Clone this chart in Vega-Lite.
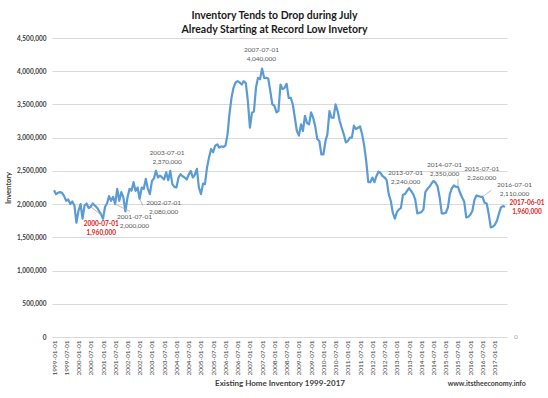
{
"$schema":"https://vega.github.io/schema/vega-lite/v6.json",
"width":455,"height":299,"autosize":"none",
"padding":{"left":52,"top":38,"right":41,"bottom":61},
"background":"#ffffff",
"title":{"text":["Inventory Tends to Drop during July","Already Starting at Record Low Invetory"],"font":"Lato","fontSize":10.5,"fontWeight":"bold","color":"#1a1a1a","lineHeight":14,"offset":0,"anchor":"middle","dx":-5},
"datasets":{
"inv":[
{"date":"1999-01-01","value":2210000},{"date":"1999-02-01","value":2150000},{"date":"1999-03-01","value":2170000},{"date":"1999-04-01","value":2180000},{"date":"1999-05-01","value":2170000},{"date":"1999-06-01","value":2120000},{"date":"1999-07-01","value":2050000},{"date":"1999-08-01","value":2070000},{"date":"1999-09-01","value":2000000},{"date":"1999-10-01","value":2040000},{"date":"1999-11-01","value":1980000},{"date":"1999-12-01","value":1720000},
{"date":"2000-01-01","value":1900000},{"date":"2000-02-01","value":2000000},{"date":"2000-03-01","value":1780000},{"date":"2000-04-01","value":1980000},{"date":"2000-05-01","value":2010000},{"date":"2000-06-01","value":1940000},{"date":"2000-07-01","value":1960000},{"date":"2000-08-01","value":2010000},{"date":"2000-09-01","value":1980000},{"date":"2000-10-01","value":1950000},{"date":"2000-11-01","value":1900000},{"date":"2000-12-01","value":1850000},
{"date":"2001-01-01","value":1780000},{"date":"2001-02-01","value":1960000},{"date":"2001-03-01","value":2010000},{"date":"2001-04-01","value":2120000},{"date":"2001-05-01","value":2050000},{"date":"2001-06-01","value":2110000},{"date":"2001-07-01","value":2000000},{"date":"2001-08-01","value":2230000},{"date":"2001-09-01","value":2050000},{"date":"2001-10-01","value":2180000},{"date":"2001-11-01","value":2100000},{"date":"2001-12-01","value":1890000},
{"date":"2002-01-01","value":2100000},{"date":"2002-02-01","value":2230000},{"date":"2002-03-01","value":2200000},{"date":"2002-04-01","value":2330000},{"date":"2002-05-01","value":2200000},{"date":"2002-06-01","value":2250000},{"date":"2002-07-01","value":2080000},{"date":"2002-08-01","value":2250000},{"date":"2002-09-01","value":2230000},{"date":"2002-10-01","value":2380000},{"date":"2002-11-01","value":2230000},{"date":"2002-12-01","value":2150000},
{"date":"2003-01-01","value":2350000},{"date":"2003-02-01","value":2390000},{"date":"2003-03-01","value":2500000},{"date":"2003-04-01","value":2400000},{"date":"2003-05-01","value":2430000},{"date":"2003-06-01","value":2400000},{"date":"2003-07-01","value":2370000},{"date":"2003-08-01","value":2480000},{"date":"2003-09-01","value":2360000},{"date":"2003-10-01","value":2500000},{"date":"2003-11-01","value":2300000},{"date":"2003-12-01","value":2260000},
{"date":"2004-01-01","value":2250000},{"date":"2004-02-01","value":2400000},{"date":"2004-03-01","value":2450000},{"date":"2004-04-01","value":2420000},{"date":"2004-05-01","value":2400000},{"date":"2004-06-01","value":2370000},{"date":"2004-07-01","value":2440000},{"date":"2004-08-01","value":2500000},{"date":"2004-09-01","value":2400000},{"date":"2004-10-01","value":2440000},{"date":"2004-11-01","value":2530000},{"date":"2004-12-01","value":2250000},
{"date":"2005-01-01","value":2150000},{"date":"2005-02-01","value":2310000},{"date":"2005-03-01","value":2300000},{"date":"2005-04-01","value":2550000},{"date":"2005-05-01","value":2700000},{"date":"2005-06-01","value":2830000},{"date":"2005-07-01","value":2780000},{"date":"2005-08-01","value":2880000},{"date":"2005-09-01","value":2900000},{"date":"2005-10-01","value":2850000},{"date":"2005-11-01","value":2870000},{"date":"2005-12-01","value":2860000},
{"date":"2006-01-01","value":2880000},{"date":"2006-02-01","value":3050000},{"date":"2006-03-01","value":3350000},{"date":"2006-04-01","value":3600000},{"date":"2006-05-01","value":3750000},{"date":"2006-06-01","value":3830000},{"date":"2006-07-01","value":3850000},{"date":"2006-08-01","value":3830000},{"date":"2006-09-01","value":3800000},{"date":"2006-10-01","value":3850000},{"date":"2006-11-01","value":3820000},{"date":"2006-12-01","value":3550000},
{"date":"2007-01-01","value":3150000},{"date":"2007-02-01","value":3380000},{"date":"2007-03-01","value":3390000},{"date":"2007-04-01","value":3750000},{"date":"2007-05-01","value":3900000},{"date":"2007-06-01","value":3880000},{"date":"2007-07-01","value":4040000},{"date":"2007-08-01","value":3900000},{"date":"2007-09-01","value":3900000},{"date":"2007-10-01","value":3890000},{"date":"2007-11-01","value":3700000},{"date":"2007-12-01","value":3500000},
{"date":"2008-01-01","value":3480000},{"date":"2008-02-01","value":3380000},{"date":"2008-03-01","value":3400000},{"date":"2008-04-01","value":3800000},{"date":"2008-05-01","value":3730000},{"date":"2008-06-01","value":3750000},{"date":"2008-07-01","value":3810000},{"date":"2008-08-01","value":3600000},{"date":"2008-09-01","value":3600000},{"date":"2008-10-01","value":3500000},{"date":"2008-11-01","value":3300000},{"date":"2008-12-01","value":3100000},
{"date":"2009-01-01","value":3030000},{"date":"2009-02-01","value":3200000},{"date":"2009-03-01","value":3100000},{"date":"2009-04-01","value":3330000},{"date":"2009-05-01","value":3220000},{"date":"2009-06-01","value":3200000},{"date":"2009-07-01","value":3380000},{"date":"2009-08-01","value":3300000},{"date":"2009-09-01","value":3170000},{"date":"2009-10-01","value":2980000},{"date":"2009-11-01","value":2950000},{"date":"2009-12-01","value":2750000},
{"date":"2010-01-01","value":2750000},{"date":"2010-02-01","value":2950000},{"date":"2010-03-01","value":3050000},{"date":"2010-04-01","value":3400000},{"date":"2010-05-01","value":3300000},{"date":"2010-06-01","value":3300000},{"date":"2010-07-01","value":3500000},{"date":"2010-08-01","value":3400000},{"date":"2010-09-01","value":3250000},{"date":"2010-10-01","value":3150000},{"date":"2010-11-01","value":3050000},{"date":"2010-12-01","value":2930000},
{"date":"2011-01-01","value":2950000},{"date":"2011-02-01","value":3000000},{"date":"2011-03-01","value":3000000},{"date":"2011-04-01","value":3180000},{"date":"2011-05-01","value":3130000},{"date":"2011-06-01","value":3150000},{"date":"2011-07-01","value":3170000},{"date":"2011-08-01","value":3050000},{"date":"2011-09-01","value":2880000},{"date":"2011-10-01","value":2650000},{"date":"2011-11-01","value":2330000},{"date":"2011-12-01","value":2330000},
{"date":"2012-01-01","value":2400000},{"date":"2012-02-01","value":2330000},{"date":"2012-03-01","value":2420000},{"date":"2012-04-01","value":2490000},{"date":"2012-05-01","value":2470000},{"date":"2012-06-01","value":2420000},{"date":"2012-07-01","value":2400000},{"date":"2012-08-01","value":2360000},{"date":"2012-09-01","value":2150000},{"date":"2012-10-01","value":2050000},{"date":"2012-11-01","value":1870000},{"date":"2012-12-01","value":1780000},
{"date":"2013-01-01","value":1880000},{"date":"2013-02-01","value":1920000},{"date":"2013-03-01","value":1940000},{"date":"2013-04-01","value":2140000},{"date":"2013-05-01","value":2150000},{"date":"2013-06-01","value":2200000},{"date":"2013-07-01","value":2240000},{"date":"2013-08-01","value":2200000},{"date":"2013-09-01","value":2150000},{"date":"2013-10-01","value":2070000},{"date":"2013-11-01","value":1860000},{"date":"2013-12-01","value":1870000},
{"date":"2014-01-01","value":1880000},{"date":"2014-02-01","value":1920000},{"date":"2014-03-01","value":2180000},{"date":"2014-04-01","value":2230000},{"date":"2014-05-01","value":2260000},{"date":"2014-06-01","value":2310000},{"date":"2014-07-01","value":2350000},{"date":"2014-08-01","value":2320000},{"date":"2014-09-01","value":2260000},{"date":"2014-10-01","value":2100000},{"date":"2014-11-01","value":1860000},{"date":"2014-12-01","value":1860000},
{"date":"2015-01-01","value":1870000},{"date":"2015-02-01","value":1950000},{"date":"2015-03-01","value":2150000},{"date":"2015-04-01","value":2240000},{"date":"2015-05-01","value":2280000},{"date":"2015-06-01","value":2260000},{"date":"2015-07-01","value":2260000},{"date":"2015-08-01","value":2170000},{"date":"2015-09-01","value":2100000},{"date":"2015-10-01","value":2040000},{"date":"2015-11-01","value":1800000},{"date":"2015-12-01","value":1810000},
{"date":"2016-01-01","value":1840000},{"date":"2016-02-01","value":1900000},{"date":"2016-03-01","value":2060000},{"date":"2016-04-01","value":2130000},{"date":"2016-05-01","value":2120000},{"date":"2016-06-01","value":2110000},{"date":"2016-07-01","value":2110000},{"date":"2016-08-01","value":2020000},{"date":"2016-09-01","value":2010000},{"date":"2016-10-01","value":1850000},{"date":"2016-11-01","value":1650000},{"date":"2016-12-01","value":1660000},
{"date":"2017-01-01","value":1690000},{"date":"2017-02-01","value":1750000},{"date":"2017-03-01","value":1850000},{"date":"2017-04-01","value":1950000},{"date":"2017-05-01","value":1970000},{"date":"2017-06-01","value":1960000}
],
"ann":[
{"date":"2000-07-01","value":1960000,"label":"2000-07-01\n1,960,000"},
{"date":"2001-07-01","value":2000000,"label":"2001-07-01\n2,000,000"},
{"date":"2002-07-01","value":2080000,"label":"2002-07-01\n2,080,000"},
{"date":"2003-07-01","value":2370000,"label":"2003-07-01\n2,370,000"},
{"date":"2007-07-01","value":4040000,"label":"2007-07-01\n4,040,000"},
{"date":"2013-07-01","value":2240000,"label":"2013-07-01\n2,240,000"},
{"date":"2014-07-01","value":2350000,"label":"2014-07-01\n2,350,000"},
{"date":"2015-07-01","value":2260000,"label":"2015-07-01\n2,260,000"},
{"date":"2016-07-01","value":2110000,"label":"2016-07-01\n2,110,000"},
{"date":"2017-06-01","value":1960000,"label":"2017-06-01\n1,960,000"}
],
"notes":[{"label":"www.itstheeconomy.info"}],
"zero":[{"label":"0"}]
},
"layer":[
{"layer":[
{"data":{"name":"inv"},"mark":{"type":"line","color":"#5b9bd5","strokeWidth":2.2,"strokeJoin":"round"}},
{"data":{"name":"ann"},"transform":[{"filter":"utcyear(datum.date) == 2000"}],"mark":{"type":"rule","color":"#a6a6a6","strokeWidth":0.75},"encoding":{"x2":{"datum":{"year":2000,"month":12,"date":1,"utc":true}},"y2":{"datum":1840000}}},
{"data":{"name":"ann"},"transform":[{"filter":"utcyear(datum.date) == 2001"}],"mark":{"type":"rule","color":"#a6a6a6","strokeWidth":0.75},"encoding":{"x2":{"datum":{"year":2002,"month":2,"date":5,"utc":true}},"y2":{"datum":1890000}}},
{"data":{"name":"ann"},"transform":[{"filter":"utcyear(datum.date) == 2002"}],"mark":{"type":"rule","color":"#a6a6a6","strokeWidth":0.75},"encoding":{"x2":{"datum":{"year":2002,"month":8,"date":20,"utc":true}},"y2":{"datum":1975000}}},
{"data":{"name":"ann"},"transform":[{"filter":"utcyear(datum.date) == 2015"}],"mark":{"type":"rule","color":"#a6a6a6","strokeWidth":0.75},"encoding":{"x2":{"datum":{"year":2015,"month":7,"date":1,"utc":true}},"y2":{"datum":2375000}}},
{"data":{"name":"ann"},"transform":[{"filter":"utcyear(datum.date) == 2016"}],"mark":{"type":"rule","color":"#a6a6a6","strokeWidth":0.75},"encoding":{"x2":{"datum":{"year":2016,"month":11,"date":10,"utc":true}},"y2":{"datum":2210000}}},
{"data":{"name":"ann"},"transform":[{"filter":"utcyear(datum.date) == 2000"}],"mark":{"type":"text","font":"Lato","fontSize":6.5,"fontWeight":"bold","color":"#e0201b","lineBreak":"\n","lineHeight":9,"baseline":"middle","dx":10.6,"dy":17.3},"encoding":{"text":{"field":"label"}}},
{"data":{"name":"ann"},"transform":[{"filter":"utcyear(datum.date) == 2001"}],"mark":{"type":"text","font":"Lato","fontSize":6.5,"color":"#595959","lineBreak":"\n","lineHeight":9,"baseline":"middle","dx":19.3,"dy":12.9},"encoding":{"text":{"field":"label"}}},
{"data":{"name":"ann"},"transform":[{"filter":"utcyear(datum.date) == 2002"}],"mark":{"type":"text","font":"Lato","fontSize":6.5,"color":"#595959","lineBreak":"\n","lineHeight":9,"baseline":"middle","dx":24,"dy":4.3},"encoding":{"text":{"field":"label"}}},
{"data":{"name":"ann"},"transform":[{"filter":"utcyear(datum.date) == 2003"}],"mark":{"type":"text","font":"Lato","fontSize":6.5,"color":"#595959","lineBreak":"\n","lineHeight":9,"baseline":"middle","dx":3,"dy":-26.9},"encoding":{"text":{"field":"label"}}},
{"data":{"name":"ann"},"transform":[{"filter":"utcyear(datum.date) == 2007"}],"mark":{"type":"text","font":"Lato","fontSize":6.5,"color":"#595959","lineBreak":"\n","lineHeight":9,"baseline":"middle","dx":-0.6,"dy":-18.2},"encoding":{"text":{"field":"label"}}},
{"data":{"name":"ann"},"transform":[{"filter":"utcyear(datum.date) == 2013"}],"mark":{"type":"text","font":"Lato","fontSize":6.5,"color":"#595959","lineBreak":"\n","lineHeight":9,"baseline":"middle","dx":-3.5,"dy":-14.9},"encoding":{"text":{"field":"label"}}},
{"data":{"name":"ann"},"transform":[{"filter":"utcyear(datum.date) == 2014"}],"mark":{"type":"text","font":"Lato","fontSize":6.5,"color":"#595959","lineBreak":"\n","lineHeight":9,"baseline":"middle","dx":11,"dy":-15.8},"encoding":{"text":{"field":"label"}}},
{"data":{"name":"ann"},"transform":[{"filter":"utcyear(datum.date) == 2015"}],"mark":{"type":"text","font":"Lato","fontSize":6.5,"color":"#595959","lineBreak":"\n","lineHeight":9,"baseline":"middle","dx":23.7,"dy":-18},"encoding":{"text":{"field":"label"}}},
{"data":{"name":"ann"},"transform":[{"filter":"utcyear(datum.date) == 2016"}],"mark":{"type":"text","font":"Lato","fontSize":6.5,"color":"#595959","lineBreak":"\n","lineHeight":9,"baseline":"middle","dx":32,"dy":-12},"encoding":{"text":{"field":"label"}}},
{"data":{"name":"ann"},"transform":[{"filter":"utcyear(datum.date) == 2017"}],"mark":{"type":"text","font":"Lato","fontSize":6.5,"fontWeight":"bold","color":"#e0201b","lineBreak":"\n","lineHeight":9,"baseline":"middle","dx":22,"dy":-3.8},"encoding":{"text":{"field":"label"}}}
],
"encoding":{
 "x":{"field":"date","type":"temporal","scale":{"type":"utc","nice":false,"padding":2},
  "axis":{"title":"Existing Home Inventory 1999-2017","tickCount":{"interval":"month","step":6},"format":"%Y-%m-%d","labelAngle":270,"labelFont":"Lato","labelFontSize":6.5,"labelColor":"#404040","labelPadding":3,"labelFlush":false,"labelOverlap":false,"labelBound":false,"ticks":false,"domain":false,"grid":false,"titleFont":"Lato","titleFontSize":8,"titleFontWeight":"bold","titleColor":"#404040","titlePadding":5}},
 "y":{"field":"value","type":"quantitative","scale":{"domain":[0,4500000],"nice":false},
  "axis":{"title":"Inventory","values":[0,500000,1000000,1500000,2000000,2500000,3000000,3500000,4000000,4500000],"format":",d","labelFont":"Lato","labelFontSize":6.5,"labelFontWeight":"bold","labelColor":"#404040","labelPadding":6,"ticks":false,"domain":false,"grid":true,"gridColor":"#d9d9d9","gridWidth":1,"titleFont":"Lato","titleFontSize":7.5,"titleFontWeight":"bold","titleColor":"#404040","titlePadding":4}}}
},
{"data":{"name":"notes"},"mark":{"type":"text","font":"Lato","fontSize":7,"fontWeight":"bold","color":"#404040","baseline":"middle"},"encoding":{
 "x":{"datum":{"year":2016,"month":9,"date":1,"utc":true},"type":"temporal",
  "axis":{"title":"Existing Home Inventory 1999-2017","tickCount":{"interval":"month","step":6},"format":"%Y-%m-%d","labelAngle":270,"labelFont":"Lato","labelFontSize":6.5,"labelColor":"#404040","labelPadding":3,"labelFlush":false,"labelOverlap":false,"labelBound":false,"ticks":false,"domain":false,"grid":false,"titleFont":"Lato","titleFontSize":8,"titleFontWeight":"bold","titleColor":"#404040","titlePadding":5}},
 "y":{"datum":-700000,"type":"quantitative",
  "axis":{"title":"Inventory","values":[0,500000,1000000,1500000,2000000,2500000,3000000,3500000,4000000,4500000],"format":",d","labelFont":"Lato","labelFontSize":6.5,"labelFontWeight":"bold","labelColor":"#404040","labelPadding":6,"ticks":false,"domain":false,"grid":true,"gridColor":"#d9d9d9","gridWidth":1,"titleFont":"Lato","titleFontSize":7.5,"titleFontWeight":"bold","titleColor":"#404040","titlePadding":4}},
 "text":{"field":"label"}}},
{"data":{"name":"zero"},"mark":{"type":"text","font":"Lato","fontSize":6.5,"color":"#a6a6a6","align":"left","baseline":"middle","dx":9},"encoding":{
 "x":{"datum":{"year":2017,"month":6,"date":1,"utc":true},"type":"temporal",
  "axis":{"title":"Existing Home Inventory 1999-2017","tickCount":{"interval":"month","step":6},"format":"%Y-%m-%d","labelAngle":270,"labelFont":"Lato","labelFontSize":6.5,"labelColor":"#404040","labelPadding":3,"labelFlush":false,"labelOverlap":false,"labelBound":false,"ticks":false,"domain":false,"grid":false,"titleFont":"Lato","titleFontSize":8,"titleFontWeight":"bold","titleColor":"#404040","titlePadding":5}},
 "y":{"datum":0,"type":"quantitative",
  "axis":{"title":"Inventory","values":[0,500000,1000000,1500000,2000000,2500000,3000000,3500000,4000000,4500000],"format":",d","labelFont":"Lato","labelFontSize":6.5,"labelFontWeight":"bold","labelColor":"#404040","labelPadding":6,"ticks":false,"domain":false,"grid":true,"gridColor":"#d9d9d9","gridWidth":1,"titleFont":"Lato","titleFontSize":7.5,"titleFontWeight":"bold","titleColor":"#404040","titlePadding":4}},
 "text":{"field":"label"}}}
],
"config":{"view":{"stroke":null},"font":"Lato"}
}
